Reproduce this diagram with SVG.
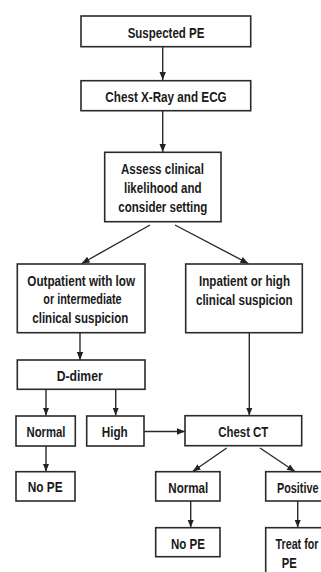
<svg xmlns="http://www.w3.org/2000/svg" width="321" height="572" viewBox="0 0 321 572">
<defs>
<marker id="ah" markerUnits="userSpaceOnUse" markerWidth="8" markerHeight="8" viewBox="0 0 8 8" refX="8" refY="4" orient="auto">
<path d="M0,0.8 L8,4 L0,7.2 Z" fill="#222"/>
</marker>
<style>
.box{fill:#fff;stroke:#2a2a2a;stroke-width:1.6}
.t{font-family:"Liberation Sans",Arial,sans-serif;font-weight:bold;font-size:14px;fill:#1a1a1a;text-anchor:middle}
.e{text-anchor:end}
.c{fill:none;stroke:#2a2a2a;stroke-width:1.4}
.a{marker-end:url(#ah)}
</style>
</defs>
<rect width="321" height="572" fill="#fff"/>
<g id="connectors">
<line class="c a" x1="162.7" y1="47" x2="162.7" y2="80"/>
<line class="c a" x1="162.7" y1="111" x2="162.7" y2="152"/>
<line class="c a" x1="150" y1="225" x2="81.7" y2="263.5"/>
<line class="c a" x1="175" y1="225" x2="248.3" y2="263.5"/>
<line class="c a" x1="80" y1="333" x2="80" y2="360"/>
<line class="c a" x1="249.3" y1="333" x2="249.3" y2="415.5"/>
<line class="c a" x1="46" y1="390" x2="46" y2="415.5"/>
<line class="c a" x1="115.7" y1="390" x2="115.7" y2="415.5"/>
<line class="c a" x1="144" y1="431.5" x2="185" y2="431.5"/>
<line class="c a" x1="46" y1="446" x2="46" y2="471.5"/>
<line class="c a" x1="226.7" y1="448" x2="192.7" y2="471.5"/>
<line class="c a" x1="260" y1="448" x2="295" y2="471.5"/>
<line class="c a" x1="190.7" y1="501" x2="190.7" y2="527.5"/>
<line class="c a" x1="297.7" y1="501" x2="297.7" y2="527.5"/>
</g>
<g id="suspected">
<rect class="box" x="81" y="16" width="169.7" height="30.7"/>
<text class="t" x="166" y="37.5" textLength="76.7" lengthAdjust="spacingAndGlyphs">Suspected PE</text>
</g>
<g id="xray">
<rect class="box" x="81" y="80.7" width="169.7" height="30"/>
<text class="t" x="166" y="101.5" textLength="121.3" lengthAdjust="spacingAndGlyphs">Chest X-Ray and ECG</text>
</g>
<g id="assess">
<rect class="box" x="104.7" y="152.3" width="116.3" height="69.4"/>
<text class="t" x="162.5" y="174" textLength="83" lengthAdjust="spacingAndGlyphs">Assess clinical</text>
<text class="t" x="162.8" y="193" textLength="77.7" lengthAdjust="spacingAndGlyphs">likelihood and</text>
<text class="t" x="162.8" y="211.5" textLength="89" lengthAdjust="spacingAndGlyphs">consider setting</text>
</g>
<g id="outpatient">
<rect class="box" x="17.3" y="264" width="127.7" height="68.7"/>
<text class="t" x="81.2" y="285.5" textLength="107.7" lengthAdjust="spacingAndGlyphs">Outpatient with low</text>
<text class="t" x="82.5" y="304" textLength="78.3" lengthAdjust="spacingAndGlyphs">or intermediate</text>
<text class="t" x="80.3" y="322.5" textLength="96" lengthAdjust="spacingAndGlyphs">clinical suspicion</text>
</g>
<g id="inpatient">
<rect class="box" x="185.7" y="264" width="116.6" height="68.7"/>
<text class="t" x="244.5" y="286" textLength="91" lengthAdjust="spacingAndGlyphs">Inpatient or high</text>
<text class="t" x="244.3" y="305" textLength="96.7" lengthAdjust="spacingAndGlyphs">clinical suspicion</text>
</g>
<g id="ddimer">
<rect class="box" x="17.3" y="360" width="127.7" height="29.3"/>
<text class="t" x="79.7" y="381" textLength="46" lengthAdjust="spacingAndGlyphs">D-dimer</text>
</g>
<g id="normal1">
<rect class="box" x="16" y="416" width="59.3" height="30"/>
<text class="t" x="46" y="436.7" textLength="39" lengthAdjust="spacingAndGlyphs">Normal</text>
</g>
<g id="high">
<rect class="box" x="86.7" y="416" width="57.3" height="30"/>
<text class="t" x="114.7" y="436.7" textLength="26" lengthAdjust="spacingAndGlyphs">High</text>
</g>
<g id="chestct">
<rect class="box" x="185" y="415.7" width="116.7" height="30"/>
<text class="t" x="243.3" y="437.3" textLength="50" lengthAdjust="spacingAndGlyphs">Chest CT</text>
</g>
<g id="nope1">
<rect class="box" x="16" y="471.7" width="59" height="29.3"/>
<text class="t" x="45.2" y="492.3" textLength="35" lengthAdjust="spacingAndGlyphs">No PE</text>
</g>
<g id="normal2">
<rect class="box" x="155.7" y="471.7" width="64.3" height="29.3"/>
<text class="t" x="188.3" y="492.7" textLength="40" lengthAdjust="spacingAndGlyphs">Normal</text>
</g>
<g id="positive">
<rect class="box" x="265.7" y="471.7" width="64" height="29.3"/>
<text class="t e" x="318.5" y="492.7" textLength="41.5" lengthAdjust="spacingAndGlyphs">Positive</text>
</g>
<g id="nope2">
<rect class="box" x="155.7" y="527.7" width="64.3" height="29"/>
<text class="t" x="188" y="549" textLength="34" lengthAdjust="spacingAndGlyphs">No PE</text>
</g>
<g id="treat">
<rect class="box" x="265.7" y="527.7" width="64" height="60"/>
<text class="t e" x="318.5" y="549" textLength="43" lengthAdjust="spacingAndGlyphs">Treat for</text>
<text class="t" x="289.2" y="568.3" textLength="15" lengthAdjust="spacingAndGlyphs">PE</text>
</g>
</svg>
